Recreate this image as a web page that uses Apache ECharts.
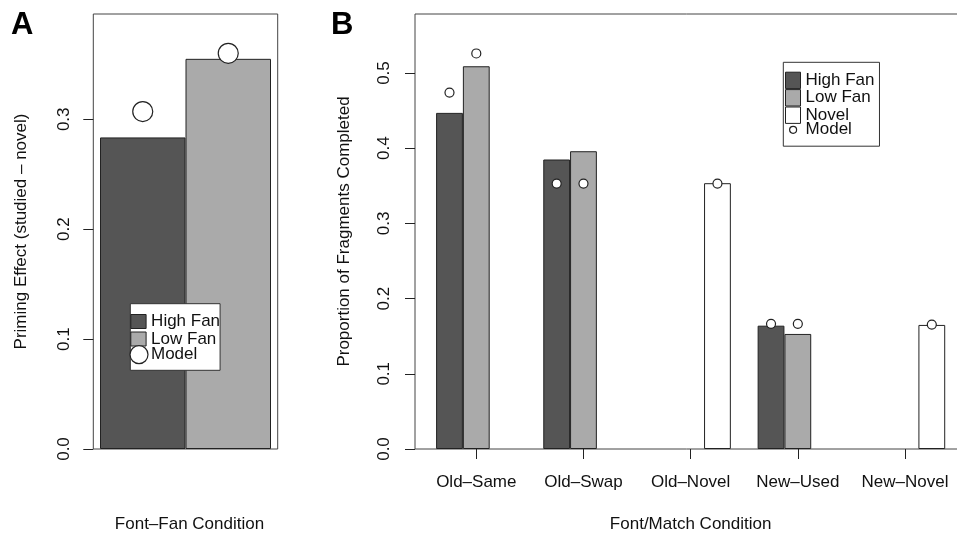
<!DOCTYPE html>
<html><head><meta charset="utf-8">
<script src="https://cdn.jsdelivr.net/npm/echarts@6/dist/echarts.min.js"></script>
<style>html,body{margin:0;padding:0;background:#fff}#c{width:957px;height:533px}</style>
</head><body><div id="c"></div>
<script>
// ---- Panel A data ----
const catsA = ['Font–Fan'];
const aHigh = [0.2835];
const aLow = [0.355];
const aModelHigh = [0.307];
const aModelLow = [0.360];
const yTicksA = [0, 0.1, 0.2, 0.3];

// ---- Panel B data ----
const catsB = ['Old–Same', 'Old–Swap', 'Old–Novel', 'New–Used', 'New–Novel'];
const bHigh = [0.447, 0.385, null, 0.164, null];
const bLow = [0.509, 0.396, null, 0.153, null];
const bNovel = [null, null, 0.3535, null, 0.165];
const bModelHigh = [0.474, 0.353, null, 0.1665, null];
const bModelLow = [0.526, 0.353, null, 0.1665, null];
const bModelNovel = [null, null, 0.353, null, 0.1655];
const yTicksB = [0, 0.1, 0.2, 0.3, 0.4, 0.5];

const FONT = "'Liberation Sans', Arial, sans-serif";
const DARK = '#555555', LIGHT = '#aaaaaa', EDGE = '#222222', FRAME = '#444444';
const BW_A = 85.5, BW_B = 26.8;
const fmt = v => v.toFixed(1);

function yAxisVis(grid, max, ticks, name, gap, margin) {
  return {
    gridIndex: grid, type: 'value', min: 0, max: max,
    axisLine: {show: false},
    splitLine: {show: false},
    axisTick: {show: true, length: 10, customValues: ticks, lineStyle: {color: EDGE}},
    axisLabel: {customValues: ticks, formatter: fmt, rotate: 90, align: 'center', verticalAlign: 'bottom',
      margin: margin, fontSize: 17, color: '#111', fontFamily: FONT},
    name: name, nameLocation: 'middle', nameGap: gap,
    nameTextStyle: {fontSize: 17, color: '#111', fontFamily: FONT}
  };
}
function barS(name, x, y, data, color, w) {
  return {type: 'bar', name: name, xAxisIndex: x, yAxisIndex: y, data: data, barWidth: w, barGap: '0%',
    itemStyle: {color: color, borderColor: EDGE, borderWidth: 1}, z: 2};
}
// model points sit over the centre of the matching bar slot (offset = slot index * bar width)
function modelS(x, y, data, slotShift, size) {
  return {type: 'scatter', name: 'Model', xAxisIndex: x, yAxisIndex: y, data: data,
    symbol: 'circle', symbolSize: size, symbolOffset: [slotShift, 0],
    itemStyle: {color: '#fff', borderColor: EDGE, borderWidth: 1.2, opacity: 1}, z: 5};
}
const rectItem = (n, c) => ({name: n, icon: 'rect', itemStyle: {color: c, borderColor: EDGE, borderWidth: 1}});
const circItem = {name: 'Model', icon: 'circle', itemStyle: {color: '#fff', borderColor: EDGE, borderWidth: 1.2}};
const legText = {fontSize: 17, color: '#111', fontFamily: FONT, lineHeight: 16};
const gridBase = {top: 14, height: 435, containLabel: false, outerBoundsMode: 'none'};

const option = {
  animation: false,
  backgroundColor: '#fff',
  textStyle: {fontFamily: FONT},
  title: [
    {text: 'A', left: 11, top: 10, padding: 0, textStyle: {fontSize: 31, fontWeight: 'bold', color: '#000', fontFamily: FONT}},
    {text: 'B', left: 331, top: 10, padding: 0, textStyle: {fontSize: 31, fontWeight: 'bold', color: '#000', fontFamily: FONT}}
  ],
  grid: [
    Object.assign({left: 93.3, width: 184.4, show: true, borderColor: FRAME, borderWidth: 1, backgroundColor: 'transparent'}, gridBase),
    Object.assign({left: 415, width: 580, show: true, borderColor: FRAME, borderWidth: 1, backgroundColor: 'transparent'}, gridBase),
    Object.assign({left: 422.7, width: 535.9}, gridBase)
  ],
  xAxis: [
    {gridIndex: 0, type: 'category', data: catsA, axisLine: {show: false}, axisTick: {show: false}, axisLabel: {show: false},
      name: 'Font–Fan Condition', nameLocation: 'middle', nameGap: 67,
      nameTextStyle: {fontSize: 17, color: '#111', fontFamily: FONT, padding: [0, 0, 0, 8]}},
    {gridIndex: 1, type: 'value', min: 0, max: 1, show: false},
    {gridIndex: 2, type: 'category', data: catsB, axisLine: {show: false},
      axisTick: {show: true, alignWithLabel: true, length: 10, lineStyle: {color: EDGE}},
      axisLabel: {margin: 25, fontSize: 17, color: '#111', fontFamily: FONT, interval: 0},
      name: 'Font/Match Condition', nameLocation: 'middle', nameGap: 67,
      nameTextStyle: {fontSize: 17, color: '#111', fontFamily: FONT}}
  ],
  yAxis: [
    yAxisVis(0, 0.3958, yTicksA, 'Priming Effect (studied – novel)', 63, 20),
    yAxisVis(1, 0.5785, yTicksB, 'Proportion of Fragments Completed', 62, 22),
    {gridIndex: 2, type: 'value', min: 0, max: 0.5785, show: false}
  ],
  legend: [
    {data: [rectItem('High Fan', DARK), rectItem('Low Fan', LIGHT)], orient: 'vertical', left: 130.3, top: 303.7,
      itemWidth: 15.3, itemHeight: 14, itemGap: 0.5, padding: [9.3, 0, 22.8, 0],
      backgroundColor: '#fff', borderColor: '#333', borderWidth: 1, textStyle: legText, selectedMode: false, z: 10},
    {data: [circItem], orient: 'vertical', left: 129.4, top: 345, itemWidth: 18, itemHeight: 18, padding: 0,
      textStyle: Object.assign({}, legText, {padding: [0, 0, 0, -2]}), selectedMode: false, z: 11},
    {data: [rectItem('High Fan', DARK), rectItem('Low Fan', LIGHT), rectItem('Novel', '#fff')], orient: 'vertical',
      left: 783.3, top: 62.3, itemWidth: 15, itemHeight: 16.4, itemGap: 0, padding: [9.4, 5, 22.3, 1.7],
      backgroundColor: '#fff', borderColor: '#333', borderWidth: 1, textStyle: legText, selectedMode: false, z: 10},
    {data: [circItem], orient: 'vertical', left: 789, top: 121.3, itemWidth: 7, itemHeight: 7, padding: 0,
      textStyle: Object.assign({}, legText, {padding: [0, 0, 0, 4]}), selectedMode: false, z: 11}
  ],
  series: [
    barS('High Fan', 0, 0, aHigh, DARK, BW_A),
    barS('Low Fan', 0, 0, aLow, LIGHT, BW_A),
    modelS(0, 0, aModelHigh, -BW_A / 2, 20),
    modelS(0, 0, aModelLow, BW_A / 2, 20),
    barS('High Fan', 2, 2, bHigh, DARK, BW_B),
    barS('Low Fan', 2, 2, bLow, LIGHT, BW_B),
    barS('Novel', 2, 2, bNovel, '#fff', BW_B),
    modelS(2, 2, bModelHigh, -BW_B, 9),
    modelS(2, 2, bModelLow, 0, 9),
    modelS(2, 2, bModelNovel, BW_B, 9)
  ]
};
const chart = echarts.init(document.getElementById('c'), null, {renderer: 'canvas'});
chart.setOption(option);
</script></body></html>
